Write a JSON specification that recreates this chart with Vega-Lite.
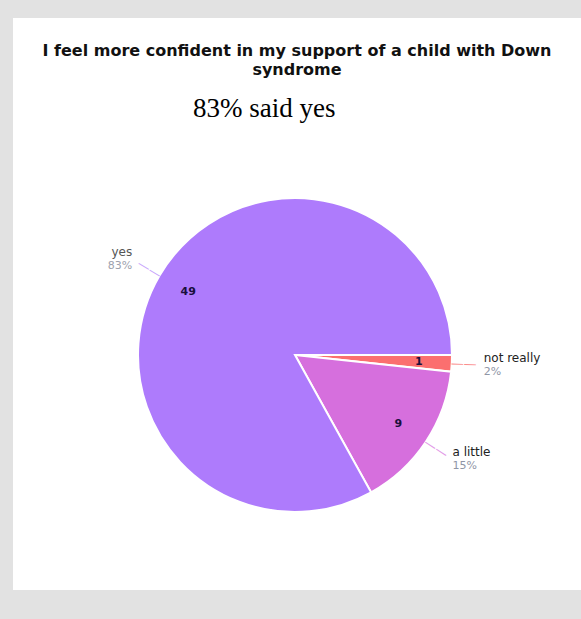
{
  "$schema": "https://vega.github.io/schema/vega-lite/v6.json",
  "width": 568,
  "height": 572,
  "autosize": {"type": "none"},
  "padding": {"left": 13, "top": 18, "right": 0, "bottom": 29},
  "background": "#e2e2e2",
  "view": {"fill": "white", "stroke": null},
  "config": {"view": {"fill": "white", "stroke": null}},
  "title": {
    "text": ["I feel more confident in my support of a child with Down", "syndrome"],
    "subtitle": "83% said yes\u2009\u2800\u2800\u2800",
    "anchor": "middle",
    "frame": "group",
    "orient": "top",
    "offset": -104,
    "font": "DejaVu Sans",
    "fontWeight": 700,
    "fontSize": 16,
    "lineHeight": 19,
    "color": "#111111",
    "subtitleFont": "Liberation Serif",
    "subtitleFontSize": 27,
    "subtitleColor": "#000000",
    "subtitlePadding": 18
  },
  "data": {
    "values": [
      {"answer": "not really", "count": 1, "pct": "2%"},
      {"answer": "a little", "count": 9, "pct": "15%"},
      {"answer": "yes", "count": 49, "pct": "83%"}
    ]
  },
  "encoding": {
    "theta": {"field": "count", "type": "quantitative", "stack": true, "scale": {"range": [1.5708, 7.854]}},
    "order": {"field": "count", "sort": "ascending"},
    "color": {
      "field": "answer",
      "type": "nominal",
      "scale": {"domain": ["yes", "a little", "not really"], "range": ["#ae7bfc", "#d66fdd", "#fb6f6f"]},
      "legend": null
    }
  },
  "layer": [
    {
      "mark": {"type": "arc", "outerRadius": 157, "stroke": "white", "strokeWidth": 2, "yOffset": 51, "xOffset": -2}
    },
    {
      "mark": {"type": "text", "radius": 124, "fontWeight": "bold", "fontSize": 11, "font": "DejaVu Sans", "yOffset": 51, "xOffset": -2},
      "encoding": {"text": {"field": "count", "type": "quantitative"}, "color": {"value": "#1a0f3c"}}
    },
    {
      "mark": {"type": "text", "radius": 169, "fontSize": 13, "font": "DejaVu Sans", "opacity": 0.7, "yOffset": 51, "xOffset": -2},
      "encoding": {
        "text": {"condition": {"test": "datum.answer !== 'not really'", "value": "——"}, "value": ""},
        "angle": {"condition": {"test": "datum.answer === 'yes'", "value": 31}, "value": 33}
      }
    },
    {
      "mark": {"type": "text", "radius": 169, "fontSize": 13, "font": "DejaVu Sans", "opacity": 0.8, "yOffset": 51, "xOffset": -2},
      "encoding": {
        "text": {"condition": {"test": "datum.answer === 'not really'", "value": "——"}, "value": ""},
        "angle": {"value": 2}
      }
    },
    {
      "mark": {"type": "text", "radius": 189, "align": "left", "baseline": "bottom", "fontSize": 12, "font": "DejaVu Sans", "yOffset": 51, "xOffset": -2},
      "encoding": {
        "text": {"condition": {"test": "datum.answer !== 'yes'", "field": "answer"}, "value": ""},
        "color": {"value": "#222222"}
      }
    },
    {
      "mark": {"type": "text", "radius": 189, "align": "left", "baseline": "top", "fontSize": 11, "font": "DejaVu Sans", "yOffset": 51, "xOffset": -2, "dy": 1},
      "encoding": {
        "text": {"condition": {"test": "datum.answer !== 'yes'", "field": "pct"}, "value": ""},
        "color": {"value": "#9096a6"}
      }
    },
    {
      "mark": {"type": "text", "radius": 189, "align": "right", "baseline": "bottom", "fontSize": 12, "font": "DejaVu Sans", "yOffset": 51, "xOffset": -2},
      "encoding": {
        "text": {"condition": {"test": "datum.answer === 'yes'", "field": "answer"}, "value": ""},
        "color": {"value": "#555555"}
      }
    },
    {
      "mark": {"type": "text", "radius": 189, "align": "right", "baseline": "top", "fontSize": 11, "font": "DejaVu Sans", "yOffset": 51, "xOffset": -2, "dy": 1},
      "encoding": {
        "text": {"condition": {"test": "datum.answer === 'yes'", "field": "pct"}, "value": ""},
        "color": {"value": "#9da1ad"}
      }
    }
  ]
}
